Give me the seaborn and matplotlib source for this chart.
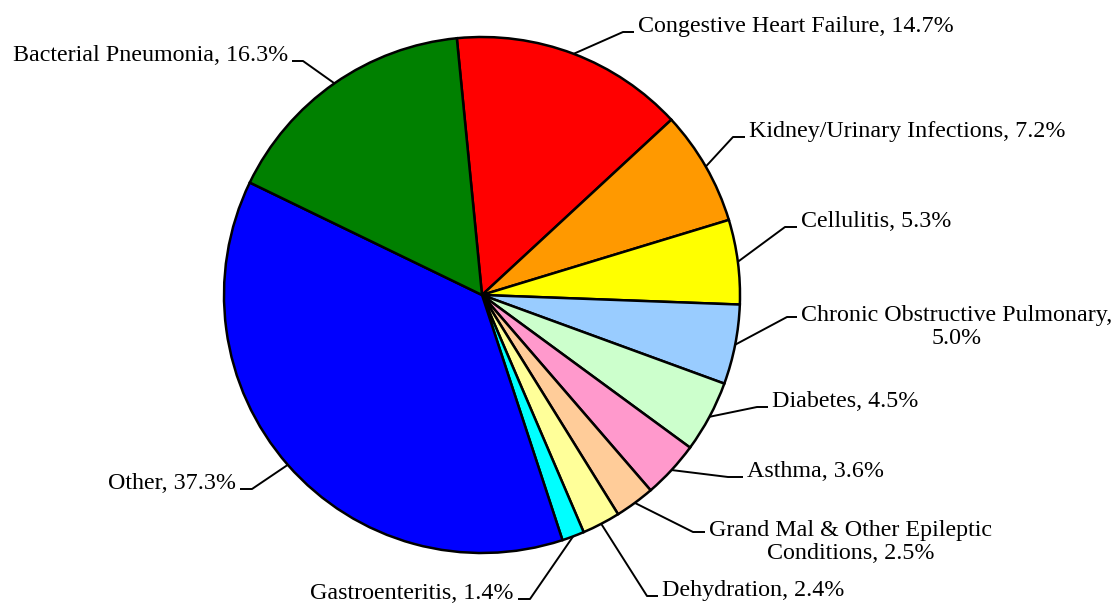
import matplotlib
matplotlib.use("Agg")
import matplotlib.pyplot as plt
import seaborn as sns
import numpy as np

# Data
conditions = ['Congestive Heart Failure', 'Kidney/Urinary Infections', 'Cellulitis',
              'Chronic Obstructive Pulmonary', 'Diabetes', 'Asthma',
              'Grand Mal & Other Epileptic Conditions', 'Dehydration', 'Gastroenteritis',
              'Other', 'Bacterial Pneumonia']
shares = [14.7, 7.2, 5.3, 5.0, 4.5, 3.6, 2.5, 2.4, 1.4, 37.3, 16.3]
slice_colors = ['#FF0000', '#FF9900', '#FFFF00', '#99CCFF', '#CCFFCC', '#FF99CC',
                '#FFCC99', '#FFFF99', '#00FFFF', '#0000FF', '#008000']

# how the long labels wrap onto two lines
label_text = {
    'Chronic Obstructive Pulmonary': 'Chronic Obstructive Pulmonary,\n{v}',
    'Grand Mal & Other Epileptic Conditions': 'Grand Mal & Other Epileptic\nConditions, {v}',
}

# label layout in pixels: (elbow x, line end x, line y, side)
label_layout = [(623, 634, 32, 'r'), (733, 745, 137, 'r'), (785, 797, 227, 'r'),
                (787, 797, 317, 'r'), (757, 768, 407, 'r'), (728, 743, 477, 'r'),
                (693, 705, 532, 'r'), (647, 658, 596, 'r'), (530, 518, 599, 'l'),
                (252, 240, 489, 'l'), (303, 292, 61, 'l')]

sns.set_style("white")
plt.rcParams['font.family'] = ['Liberation Serif', 'DejaVu Serif']

W, H = 1118, 605
cx, cy, R = 482, 295, 258
line_gap = 27

def px(x, y):
    return (x - cx) / R, (cy - y) / R

fig = plt.figure(figsize=(W / 100, H / 100), dpi=100)
ax = fig.add_axes([0, 0, 1, 1])

wedges, _ = ax.pie(shares, colors=slice_colors, startangle=95.6, counterclock=False,
                   radius=1, center=(0, 0),
                   wedgeprops=dict(edgecolor='black', linewidth=1.8))

for w, name, val, (ex, lx, ly, side) in zip(wedges, conditions, shares, label_layout):
    mid = np.deg2rad((w.theta1 + w.theta2) / 2)
    ax0, ay0 = np.cos(mid), np.sin(mid)
    exd, eyd = px(ex, ly)
    lxd, _ = px(lx, ly)
    ax.plot([ax0, exd, lxd], [ay0, eyd, eyd], color='black', lw=1.4,
            solid_capstyle='butt', zorder=3)
    txt = label_text.get(name, name + ', {v}').format(v=f'{val:.1f}%')
    # matplotlib puts the baseline of the last line at the anchor
    by = ly + line_gap * txt.count('\n')
    if side == 'r':
        tx, ty = px(lx + 4, by)
        ha = 'left'
    else:
        tx, ty = px(lx - 4, by)
        ha = 'right'
    ax.text(tx, ty, txt, ha=ha, va='baseline', multialignment='center',
            fontsize=17.3, linespacing=1.12, color='black')

ax.set_xlim(-cx / R, (W - cx) / R)
ax.set_ylim((cy - H) / R, cy / R)
ax.set_aspect('equal')
ax.axis('off')

fig.savefig('out.png', dpi=100, facecolor='white')
